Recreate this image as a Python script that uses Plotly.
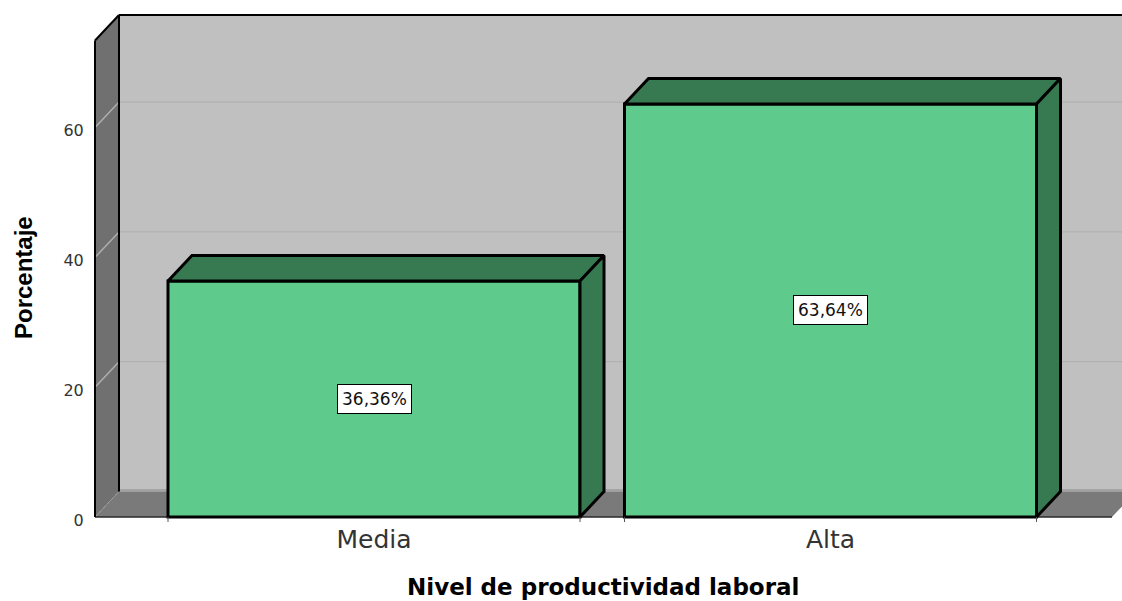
import plotly.graph_objects as go

categories = ['Media', 'Alta']
porcentaje = [36.36, 63.64]
etiquetas = ['36,36%', '63,64%']
y_ticks = [0, 20, 40, 60]

# figure and axis geometry
W, H = 1122, 601
L, R, T, B = 92, 0, 13, 79
PX_X = 456.5   # px between category centres
PX_Y = 6.49    # px per percent
x_range = [(L - 374) / PX_X, (W - 374) / PX_X]
y_range = [(H - B - 517) / -PX_Y, (517 - T) / PX_Y]
x_left = (95 - 374) / PX_X
dx = 24 / PX_X     # 3d depth
dy = 25.5 / PX_Y
bar_w = 412 / PX_X
floor_right = (1112 - 374) / PX_X
wall_top = (517 - 15) / PX_Y - dy

WALL = '#c0c0c0'
SIDE = '#707070'
FLOOR = '#7a7a7a'
GRID = '#aeaeae'
FRONT = '#5ecb8c'
DARK = '#377a52'


def path(points):
    return 'M ' + ' L '.join(f'{x},{y}' for x, y in points) + ' Z'


def poly(points, fill, line=None, width=0):
    return dict(type='path', path=path(points), xref='x', yref='y', layer='below',
                fillcolor=fill, line=dict(color=line or fill, width=width))


def seg(x0, y0, x1, y1, color='black', width=2, dash='solid'):
    return dict(type='line', x0=x0, y0=y0, x1=x1, y1=y1, xref='x', yref='y', layer='below',
                line=dict(color=color, width=width, dash=dash))


x_far = x_range[1] + 0.2
shapes = [
    poly([(x_left + dx, dy), (x_far, dy), (x_far, wall_top + dy), (x_left + dx, wall_top + dy)], WALL),
    poly([(x_left, 0), (x_left + dx, dy), (x_left + dx, wall_top + dy), (x_left, wall_top)], SIDE),
    poly([(x_left + dx, dy), (x_far, dy), (x_far, dy + 0.4), (x_left + dx, dy + 0.4)], '#a3a3a3'),
    poly([(x_left, 0), (x_left + dx, dy), (floor_right + dx, dy), (floor_right, 0)], FLOOR),
]
for v in y_ticks[1:]:
    shapes.append(seg(x_left, v, x_left + dx, v + dy, GRID, 1.5))
    shapes.append(seg(x_left + dx, v + dy, x_far, v + dy, GRID, 1))
shapes += [
    seg(x_left, 0, x_left + dx, dy, '#a0a0a0', 1, 'dot'),
    seg(x_left, 0, floor_right, 0, '#2a2a2a', 1.5),
    seg(x_left, 0, x_left, wall_top, 'black', 2),
    seg(x_left, wall_top, x_left + dx, wall_top + dy),
    seg(x_left + dx, wall_top + dy, x_far, wall_top + dy),
    seg(x_left + dx, dy, x_left + dx, wall_top + dy),
]

fig = go.Figure()
x_pos = list(range(len(categories)))
fig.add_trace(go.Bar(x=x_pos, y=porcentaje, width=bar_w, marker=dict(color=FRONT, line=dict(color='black', width=3)),
                     hoverinfo='skip', showlegend=False))

# top and right faces of the bars
for i, v in zip(x_pos, porcentaje):
    a, b = i - bar_w / 2, i + bar_w / 2
    fig.add_trace(go.Scatter(x=[a, a + dx, b + dx, b, a], y=[v, v + dy, v + dy, v, v], mode='lines', fill='toself',
                             fillcolor=DARK, line=dict(color='black', width=3), hoverinfo='skip', showlegend=False))
    fig.add_trace(go.Scatter(x=[b, b + dx, b + dx, b, b], y=[0, dy, v + dy, v, 0], mode='lines', fill='toself',
                             fillcolor=DARK, line=dict(color='black', width=3), hoverinfo='skip', showlegend=False))
    # little ticks under the bar corners
    fig.add_trace(go.Scatter(x=[a, a, None, b, b], y=[0, -0.8, None, 0, -0.8], mode='lines',
                             line=dict(color='#555555', width=1), hoverinfo='skip', showlegend=False))

annotations = [
    dict(x=i, y=v / 2, text=t, showarrow=False, bgcolor='white', bordercolor='black', borderwidth=1, borderpad=4,
         font=dict(family='DejaVu Sans', size=17, color='#111111'))
    for i, v, t in zip(x_pos, porcentaje, etiquetas)
]
plot_h = H - T - B
annotations += [
    dict(text='Nivel de productividad laboral', xref='paper', yref='paper', xanchor='center', yanchor='middle',
         x=(602.5 - L) / (W - L), y=-(587 - (H - B)) / plot_h,
         showarrow=False, font=dict(family='DejaVu Sans', size=23, color='black', weight='bold')),
    dict(text='Porcentaje', xref='paper', yref='paper', xanchor='center', yanchor='middle',
         x=-(92 - 23) / (W - L), y=((H - B) - 278) / plot_h, textangle=-90,
         showarrow=False, font=dict(family='Liberation Sans', size=24, color='black', weight='bold')),
]

fig.update_layout(
    width=W, height=H, autosize=False,
    margin=dict(l=L, r=R, t=T, b=B),
    paper_bgcolor='white', plot_bgcolor='white',
    shapes=shapes, annotations=annotations,
    xaxis=dict(range=x_range, tickvals=x_pos, ticktext=categories, showgrid=False, zeroline=False, showline=False,
               ticks='', ticklabelstandoff=0, tickfont=dict(family='DejaVu Sans', size=25, color='#333333')),
    yaxis=dict(range=y_range, tickvals=y_ticks, showgrid=False, zeroline=False, showline=False, ticklabelshift=3,
               ticks='outside', ticklen=4, tickcolor='white', tickfont=dict(family='DejaVu Sans', size=16, color='#333333')),
)

fig.write_html('out.html', config={'displayModeBar': False}, post_script="document.body.style.margin='0';")
